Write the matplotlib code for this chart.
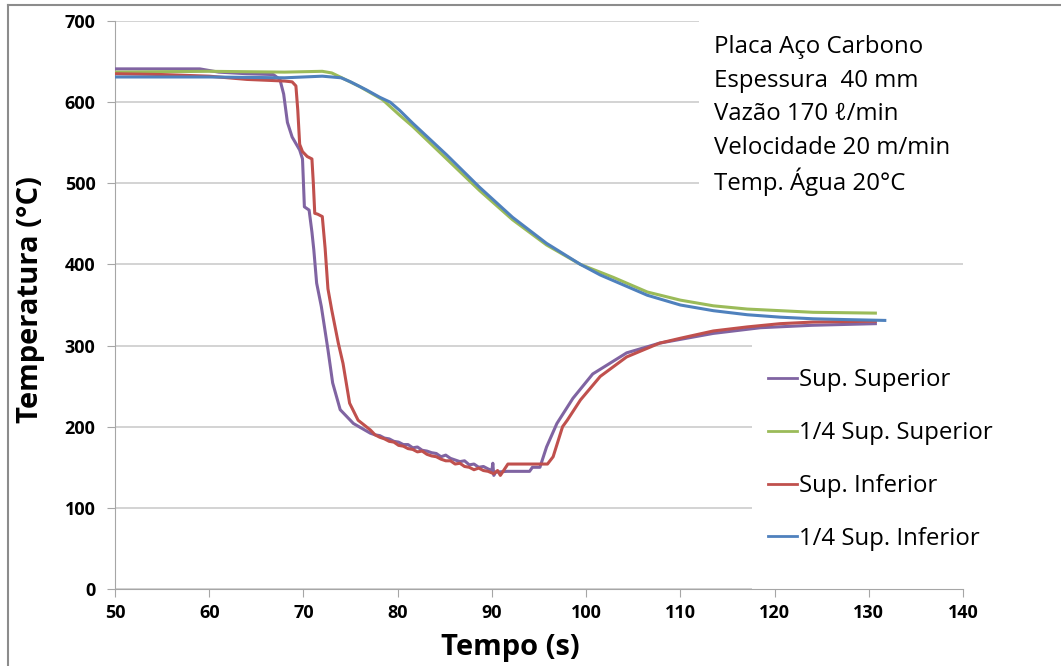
import matplotlib
matplotlib.use("Agg")
import matplotlib.pyplot as plt
from matplotlib.patches import Rectangle
from matplotlib.lines import Line2D

plt.rcParams['font.family'] = ['Open Sans', 'DejaVu Sans']

# Sup. Superior
t_sup = [50, 55, 59, 61, 64, 66.8, 67.5, 67.9, 68.3, 68.8, 69.6, 69.9, 70.1, 70.6, 70.9,
         71.1, 71.4, 71.9, 72.6, 73.1, 73.9, 75.3, 77.1,
         77.6, 78.1, 78.6, 79.1, 79.6, 80.1, 80.6, 81.1, 81.6, 82.1, 82.6, 83.1, 83.6, 84.1,
         84.6, 85.1, 85.6, 86.1, 86.6, 87.1, 87.6, 88.1, 88.6, 89.1, 89.6, 90.0, 90.1, 90.2,
         90.4, 91.6, 94.0, 94.3, 95.1, 95.8, 96.9, 98.6, 100.7, 104.3, 107.8, 113.5, 118.5,
         124.0, 130.7]
T_sup = [641, 641, 641, 637, 635, 634, 628, 610, 575, 557, 541, 530, 471, 467, 440,
         418, 377, 348, 295, 254, 221, 204, 192,
         190, 189, 186, 185, 182, 181, 178, 178, 174, 175, 171, 170, 168, 167,
         163, 165, 161, 159, 157, 158, 153, 154, 150, 151, 148, 146, 155, 140,
         144, 145, 145, 150, 150, 175, 204, 235, 265, 291, 303, 315, 322,
         325, 327]

# 1/4 Sup. Superior
t_q_sup = [50, 60, 68, 72, 73, 73.9, 76, 78.4, 80.2, 81.6, 85.2, 88.7, 92.2, 95.8, 99.4,
           102.9, 106.5, 110, 113.5, 117.1, 120.6, 124.1, 130.7]
T_q_sup = [637, 638, 637, 638, 636, 631, 619, 603, 584, 570, 530, 491, 455, 424, 400,
           384, 366, 356, 349, 345, 343, 341, 340]

# Sup. Inferior
t_inf = [50, 55, 60, 64, 68.0, 68.8, 69.2, 69.4, 69.6, 69.9, 70.4, 70.9, 71.05, 71.2, 71.5,
         72.0, 72.3, 72.6, 73.0, 73.7, 74.2, 74.9, 75.8, 77.1,
         77.6, 78.1, 78.6, 79.1, 79.6, 80.1, 80.6, 81.1, 81.6, 82.1, 82.6, 83.1, 83.6, 84.1,
         84.6, 85.1, 85.6, 86.1, 86.6, 87.1, 87.6, 88.1, 88.6, 89.1, 89.6, 90.2, 90.6, 90.9,
         91.7, 95.9, 96.5, 97.5, 98.0, 99.4, 101.5, 104.3, 107.8, 110, 113.5, 117.1, 120.6,
         124.1, 130.7]
T_inf = [635, 634, 632, 628, 626, 625, 620, 590, 548, 539, 533, 530, 500, 463, 462,
         459, 420, 370, 344, 303, 278, 229, 208, 196,
         190, 187, 185, 182, 181, 177, 176, 173, 172, 169, 170, 166, 164, 163,
         160, 158, 158, 154, 155, 151, 150, 147, 149, 146, 145, 142, 146, 140,
         154, 154, 163, 200, 208, 233, 262, 286, 303, 309, 318, 323, 327,
         329, 330]

# 1/4 Sup. Inferior
t_q_inf = [50, 60, 68, 72, 74, 75, 76.7, 78.1, 79.2, 80.2, 81.6, 85.2, 88.7, 92.2, 95.8,
           99.4, 101.5, 102.9, 106.5, 110, 113.5, 117.1, 120.6, 124.1, 127.7, 131.7]
T_q_inf = [631, 631, 630, 632, 630, 625, 615, 606, 600, 590, 574, 535, 495, 458, 426,
           400, 387, 380, 362, 350, 343, 338, 335, 333, 332, 331]

labels = ['Sup. Superior', '1/4 Sup. Superior', 'Sup. Inferior', '1/4 Sup. Inferior']
colors = ['#8064A2', '#9BBB59', '#C0504D', '#4F81BD']
info_lines = ['Placa Aço Carbono', 'Espessura  40 mm', 'Vazão 170 ℓ/min',
              'Velocidade 20 m/min', 'Temp. Água 20°C']

W, H = 1061, 666
fig = plt.figure(figsize=(W / 100, H / 100), dpi=100)
ax = fig.add_axes([115 / W, 1 - 589 / H, 848 / W, 568 / H])

series = [(t_sup, T_sup), (t_q_sup, T_q_sup), (t_inf, T_inf), (t_q_inf, T_q_inf)]
for (t, T), lab, c in zip(series, labels, colors):
    ax.plot(t, T, color=c, lw=2.2, label=lab, zorder=3)

ax.set_xlim(50, 140)
ax.set_ylim(0, 700)
ax.set_xticks(range(50, 141, 10))
ax.set_yticks(range(0, 701, 100))
ax.set_axisbelow(True)
ax.grid(axis='y', color='#C8C8C8', lw=1.1)
for s in ['top', 'right']:
    ax.spines[s].set_visible(False)
for s in ['left', 'bottom']:
    ax.spines[s].set_color('#A6A6A6')
ax.tick_params(axis='both', color='#A6A6A6', length=6, labelsize=13)
for lbl in ax.get_xticklabels() + ax.get_yticklabels():
    lbl.set_fontweight('bold')
ax.tick_params(axis='x', pad=5)
ax.tick_params(axis='y', pad=8)

ax.set_xlabel('Tempo (s)', fontsize=21, fontweight='bold')
ax.set_ylabel('Temperatura (°C)', fontsize=21, fontweight='bold')
ax.xaxis.set_label_coords((510 - 115) / 848, -(633 - 589) / 568)
ax.yaxis.set_label_coords(-(115 - 45) / 848, (589 - 300) / 568)

# white boxes behind the annotation and the legend (hide gridlines)
ax.add_patch(Rectangle((112.0, 440), 30, 270, facecolor='white', edgecolor='none', zorder=1))
ax.add_patch(Rectangle((117.6, -5), 30, 317, facecolor='white', edgecolor='none', zorder=1))

for i, line in enumerate(info_lines):
    fig.text(714 / W, 1 - (47 + i * 33.7) / H, line, fontsize=17.3, va='center', ha='left')

leg = ax.legend(loc='center left', bbox_to_anchor=(768 / W, 1 - 459.5 / H),
                bbox_transform=fig.transFigure, frameon=False, fontsize=17.3,
                handlelength=1.22, handletextpad=0.08, labelspacing=1.2, borderpad=0,
                borderaxespad=0)
for h in leg.get_lines():
    h.set_linewidth(2.0)

# outer frame of the original picture
fig.add_artist(Line2D([8 / W, 8 / W], [0, 1 - 5 / H], transform=fig.transFigure,
                      color='#8C8C8C', lw=1.5))
fig.add_artist(Line2D([8 / W, 1], [1 - 5 / H, 1 - 5 / H], transform=fig.transFigure,
                      color='#8C8C8C', lw=1.5))

fig.savefig('out.png', dpi=100)
